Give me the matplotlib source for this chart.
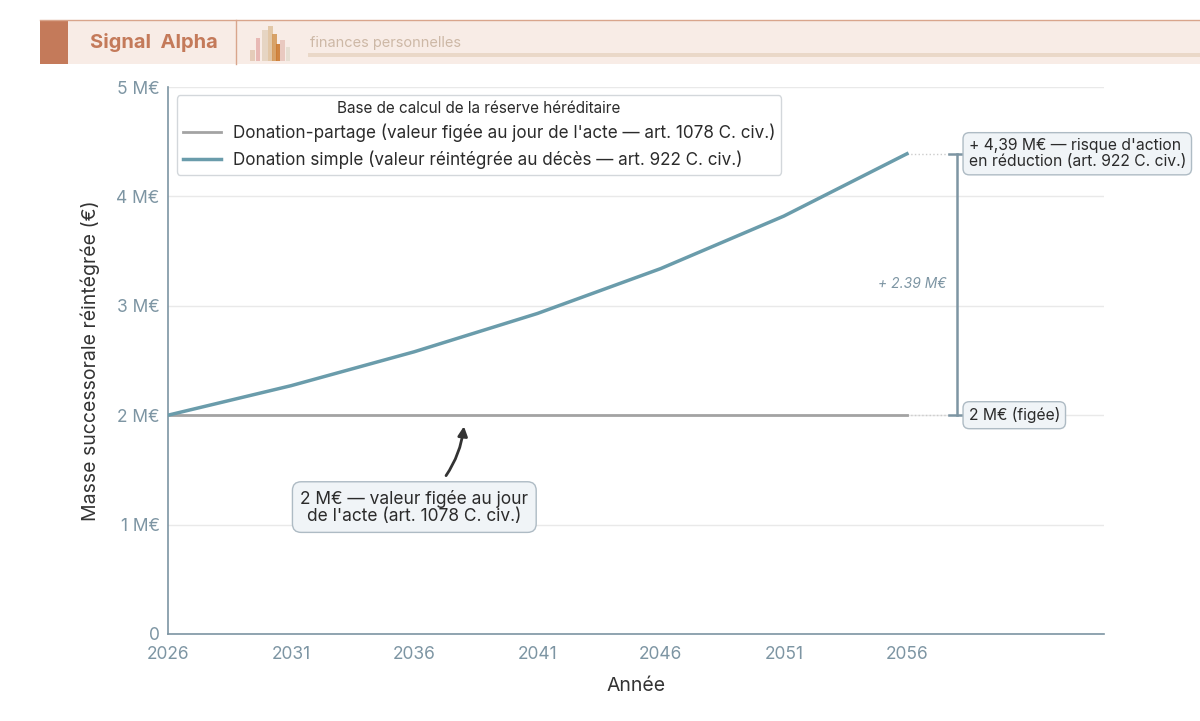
import matplotlib
matplotlib.use("Agg")
import matplotlib.pyplot as plt
from matplotlib.patches import Rectangle

plt.rcParams['font.family'] = ['Inter', 'DejaVu Sans']

# données
annees = [2026, 2031, 2036, 2041, 2046, 2051, 2056]
donation_partage = [2.0, 2.0, 2.0, 2.0, 2.0, 2.0, 2.0]
donation_simple = [2.0, 2.27, 2.58, 2.93, 3.34, 3.82, 4.39]
yticks = [0, 1, 2, 3, 4, 5]
ytick_labels = ["0", "1 M€", "2 M€", "3 M€", "4 M€", "5 M€"]

GRIS = "#a3a3a3"
TEAL = "#6a9cab"
ARDOISE = "#7d95a3"
TERRE = "#c47a5a"

fig = plt.figure(figsize=(12, 7.21), dpi=100)

# bandeau d'en-tete
W, H = 1200, 721
def fx(px): return px / W
def fy(py): return 1 - py / H
fig.patches.append(Rectangle((fx(40), fy(64)), 1 - fx(40), (64 - 20) / H,
                             transform=fig.transFigure, facecolor="#f8ece6",
                             edgecolor="none", zorder=0))
fig.patches.append(Rectangle((fx(40), fy(64)), fx(28), (64 - 20) / H,
                             transform=fig.transFigure, facecolor=TERRE,
                             edgecolor="none", zorder=1))
fig.add_artist(plt.Line2D([fx(40), 1], [fy(20), fy(20)], transform=fig.transFigure,
                          color="#d9a58c", lw=1))
fig.add_artist(plt.Line2D([fx(236), fx(236)], [fy(20), fy(64)], transform=fig.transFigure,
                          color="#d9a58c", lw=1))
fig.text(fx(90), fy(43), "Signal  Alpha", color=TERRE, fontsize=14.5,
         fontweight="bold", va="center", ha="left")
fig.text(fx(310), fy(43), "finances personnelles", color="#cdb8a6", fontsize=10.5,
         va="center", ha="left")
fig.patches.append(Rectangle((fx(308), fy(57)), 1 - fx(308), 4 / H,
                             transform=fig.transFigure, facecolor="#ead8c8",
                             edgecolor="none", zorder=1))
icone = [(250, 50, 5, "#e3c9b5"), (256, 38, 4, "#e7b4b0"), (262, 30, 6, "#e5d3c0"),
         (268, 26, 5, "#e0c3a0"), (272, 34, 5, "#d59a5a"), (276, 44, 4, "#cc7a30"),
         (280, 40, 5, "#e8c6bc"), (286, 47, 4, "#e5ddd0")]
for x0, top, w, c in icone:
    fig.patches.append(Rectangle((fx(x0), fy(61)), w / W, (61 - top) / H,
                                 transform=fig.transFigure, facecolor=c,
                                 edgecolor="none", alpha=0.9, zorder=2))

ax = fig.add_axes([0.14, 0.1207, 0.78, 0.7586])
ax.set_xlim(2026, 2064)
ax.set_ylim(0, 5)

ax.plot(annees, donation_partage, color=GRIS, lw=2,
        label="Donation-partage (valeur figée au jour de l'acte — art. 1078 C. civ.)", zorder=3)
ax.plot(annees, donation_simple, color=TEAL, lw=2.5,
        label="Donation simple (valeur réintégrée au décès — art. 922 C. civ.)", zorder=3)

ax.set_yticks(yticks)
ax.set_yticklabels(ytick_labels)
ax.set_xticks(annees)
ax.grid(axis="y", color="#e9e9e9", lw=1)
ax.grid(axis="x", visible=False)
ax.set_axisbelow(True)
for s in ["top", "right"]:
    ax.spines[s].set_visible(False)
for s in ["left", "bottom"]:
    ax.spines[s].set_color(ARDOISE)
    ax.spines[s].set_linewidth(1.2)
ax.tick_params(length=0, colors=ARDOISE, labelsize=12.5, pad=6)
ax.tick_params(axis="x", pad=9)
ax.set_xlabel("Année", fontsize=14, color="#333333", labelpad=10)
ax.set_ylabel("Masse successorale réintégrée (€)", fontsize=14, color="#333333", labelpad=12)

# ecart entre les deux bases
fin_x = annees[-1]
haut = donation_simple[-1]
bas = donation_partage[-1]
bx = 2058.05
ax.plot([fin_x, bx - 0.3], [haut, haut], color="#cccccc", lw=1, ls=":")
ax.plot([fin_x, bx - 0.3], [bas, bas], color="#cccccc", lw=1, ls=":")
ax.plot([bx, bx], [bas, haut], color=ARDOISE, lw=1.8)
ax.plot([bx - 0.35, bx + 0.35], [haut, haut], color=ARDOISE, lw=1.8)
ax.plot([bx - 0.35, bx + 0.35], [bas, bas], color=ARDOISE, lw=1.8)
ax.text(bx - 0.45, (haut + bas) / 2, f"+ {haut - bas:.2f} M€", ha="right", va="center",
        fontsize=10, style="italic", color=ARDOISE)

boite = dict(boxstyle="round,pad=0.35,rounding_size=0.4", facecolor="#f0f4f7",
             edgecolor="#aebbc4", lw=1)
ax.text(bx + 0.45, haut, "+ 4,39 M€ — risque d'action\nen réduction (art. 922 C. civ.)",
        ha="left", va="center", fontsize=11.3, color="#2b2b2b", bbox=boite,
        linespacing=1.1, clip_on=False)
ax.text(bx + 0.45, bas, "2 M€ (figée)", ha="left", va="center", fontsize=11.3,
        color="#2b2b2b", bbox=boite, clip_on=False)

ax.annotate("2 M€ — valeur figée au jour\nde l'acte (art. 1078 C. civ.)",
            xy=(2038.05, 2.0), xytext=(2036, 1.16),
            ha="center", va="center", fontsize=12.5, color="#2b2b2b",
            linespacing=1.0,
            bbox=dict(boxstyle="round,pad=0.45,rounding_size=0.5", facecolor="#f0f4f7",
                      edgecolor="#aebbc4", lw=1),
            arrowprops=dict(arrowstyle="-|>", color="#333333", lw=2,
                            connectionstyle="arc3,rad=0.25",
                            shrinkA=5, shrinkB=8, mutation_scale=14))

leg = ax.legend(title="Base de calcul de la réserve héréditaire", loc="upper left",
                bbox_to_anchor=(0.0096, 0.985), borderaxespad=0,
                fontsize=12.3, title_fontsize=11,
                frameon=True, fancybox=True, handlelength=2.2, handletextpad=0.7,
                borderpad=0.35, labelspacing=0.45)
leg.get_frame().set_edgecolor("#c8ced3")
leg.get_frame().set_linewidth(1)
for t in leg.get_texts():
    t.set_color("#2b2b2b")
leg.get_title().set_color("#2b2b2b")

fig.savefig("out.png", dpi=100)
